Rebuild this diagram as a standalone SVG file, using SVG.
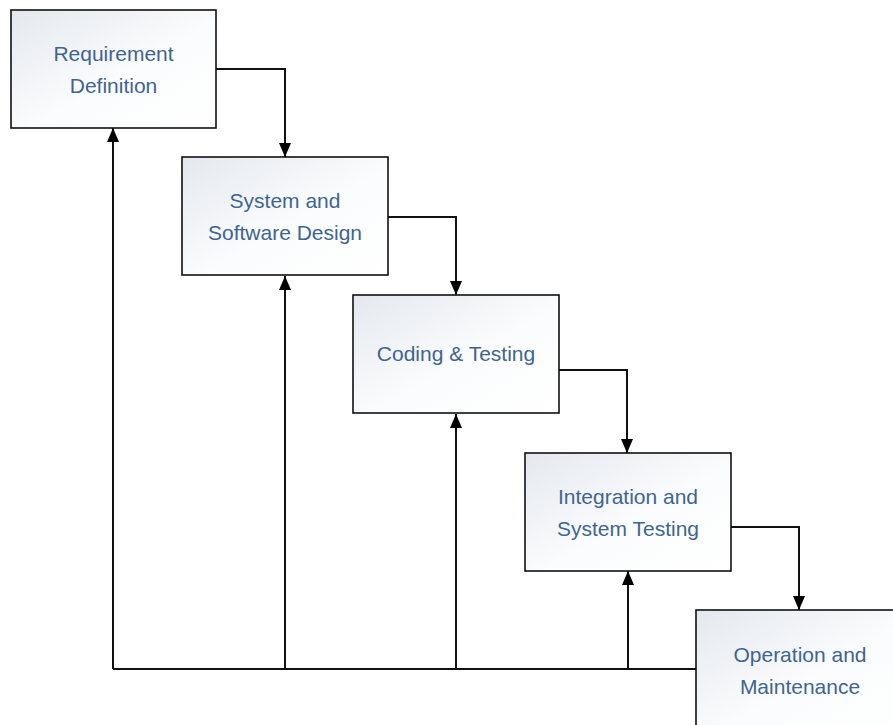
<svg xmlns="http://www.w3.org/2000/svg" width="893" height="725" viewBox="0 0 893 725">
  <defs>
    <linearGradient id="boxFill" x1="0" y1="0" x2="1" y2="1">
      <stop offset="0" stop-color="#e4e8ee"/>
      <stop offset="0.55" stop-color="#fbfcfd"/>
      <stop offset="1" stop-color="#ffffff"/>
    </linearGradient>
    <marker id="arrow" viewBox="0 0 14 12" refX="14" refY="6" markerWidth="14" markerHeight="12" markerUnits="userSpaceOnUse" orient="auto">
      <path d="M0,0 L14,6 L0,12 Z" fill="#000"/>
    </marker>
  </defs>
  <style>
    .box { fill: url(#boxFill); stroke: #111; stroke-width: 1.6; }
    .label { font-family: "Liberation Sans", Arial, sans-serif; font-size: 21px; fill: #3e6591; text-anchor: middle; }
    .conn { fill: none; stroke: #111; stroke-width: 2; }
  </style>
  <rect width="893" height="725" fill="#fff"/>

  <!-- flow and feedback connectors -->
  <g id="connectors">
    <path class="conn" d="M216,69 H285 V157" marker-end="url(#arrow)"/>
    <path class="conn" d="M388,217 H456 V295" marker-end="url(#arrow)"/>
    <path class="conn" d="M559,370 H627 V453" marker-end="url(#arrow)"/>
    <path class="conn" d="M731,527 H799 V610" marker-end="url(#arrow)"/>
    <path class="conn" d="M696,669 H113"/>
    <path class="conn" d="M113,669 V128" marker-end="url(#arrow)"/>
    <path class="conn" d="M285,669 V276" marker-end="url(#arrow)"/>
    <path class="conn" d="M456,669 V414" marker-end="url(#arrow)"/>
    <path class="conn" d="M628,669 V571" marker-end="url(#arrow)"/>
  </g>

  <g id="requirement-definition">
    <rect class="box" x="11" y="10" width="205" height="118"/>
    <text class="label" x="113.5" y="61">Requirement</text>
    <text class="label" x="113.5" y="93">Definition</text>
  </g>

  <g id="system-software-design">
    <rect class="box" x="182" y="157" width="206" height="118"/>
    <text class="label" x="285" y="208">System and</text>
    <text class="label" x="285" y="240">Software Design</text>
  </g>

  <g id="coding-testing">
    <rect class="box" x="353" y="295" width="206" height="118"/>
    <text class="label" x="456" y="361">Coding &amp; Testing</text>
  </g>

  <g id="integration-system-testing">
    <rect class="box" x="525" y="453" width="206" height="118"/>
    <text class="label" x="628" y="504">Integration and</text>
    <text class="label" x="628" y="536">System Testing</text>
  </g>

  <g id="operation-maintenance">
    <rect class="box" x="696" y="610" width="210" height="125"/>
    <text class="label" x="800" y="662">Operation and</text>
    <text class="label" x="800" y="694">Maintenance</text>
  </g>
</svg>
